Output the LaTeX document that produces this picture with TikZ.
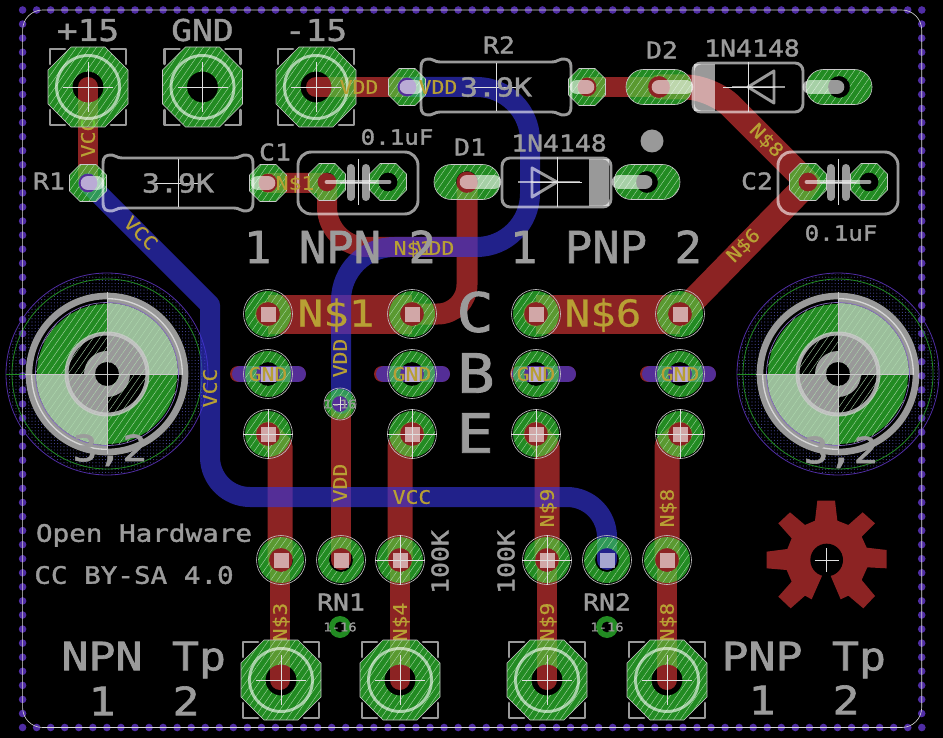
\documentclass[tikz,border=0pt]{standalone}
\usepackage{fontspec}
\usepackage{graphicx}
\usetikzlibrary{patterns.meta}
\newfontfamily\fontsilktxt[FakeStretch=1.15,FakeBold=1.6]{DejaVu Sans Mono}
\newfontfamily\fontcutxt[FakeStretch=1.15,FakeBold=.4]{DejaVu Sans Mono}
\definecolor{cured}{RGB}{140,35,35}
\definecolor{cublue}{RGB}{53,53,217}
\definecolor{padg}{RGB}{57,232,57}
\definecolor{solidg}{RGB}{34,139,34}
\definecolor{hatchc}{RGB}{175,218,175}
\definecolor{dotp}{RGB}{80,45,165}
\definecolor{labely}{RGB}{184,160,52}
\definecolor{thinw}{RGB}{200,200,200}
\definecolor{stip}{RGB}{70,70,150}
\definecolor{silkg}{RGB}{155,155,155}
\tikzset{
  redtr/.style={draw=cured,line width=#1*0.75pt,line cap=round,line join=round},
  bluetr/.style={draw=cublue,draw opacity=.64,line width=#1*0.75pt,line cap=round,line join=round},
  padc/.style={fill=padg,fill opacity=.6},
  hatch/.style={pattern={Lines[angle=55,distance=4.1pt,line width=0.28pt]},pattern color=hatchc},
  outl/.style={draw=thinw,line width=.45pt},
  crossl/.style={draw=white!88!black,line width=.5pt},
  silk/.style={draw=white,draw opacity=.6,line width=2.2pt,line cap=round,line join=round},
  silkf/.style={fill=white,fill opacity=.6},
  stub/.style={draw=white,draw opacity=.6,line width=11pt,line cap=round},
  silktxt/.style={text=silkg},
  cutxt/.style={text=labely},
}
\newcounter{tn}
\newcommand\txt[6]{\stepcounter{tn}\pgfmathsetlengthmacro\emsz{#4*0.75pt}\pgfmathsetlengthmacro\capht{0.73*#4*0.75pt}\node[#1,rotate=#5,inner sep=0pt,outer sep=0pt,text height=\capht,text depth=0pt,anchor=center,font=\csname font#1\endcsname\fontsize{\emsz}{\emsz}\selectfont] (t\thetn) at (#2,#3) {#6};}
\newcommand\octpath[2]{(-#1,-#2)--(-#2,-#1)--(#2,-#1)--(#1,-#2)--(#1,#2)--(#2,#1)--(-#2,#1)--(-#1,#2)--cycle}
\newcommand\crossat[2]{\draw[crossl] (-#1,0)--(#1,0) (0,-#2)--(0,#2);}
\newcommand\bigpad[2]{\begin{scope}[shift={(#1,#2)}]
  \fill[padc,even odd rule] \octpath{40}{17} (0,0) circle[radius=15.5];
  \fill[hatch,even odd rule] \octpath{40}{17} (0,0) circle[radius=15.5];
  \draw[outl] \octpath{40}{17};
  \draw[silk] (-23,-38)--(-38,-38)--(-38,-23) (23,-38)--(38,-38)--(38,-23) (-23,38)--(-38,38)--(-38,23) (23,38)--(38,38)--(38,23);
  \draw[silk] (0,0) circle[radius=31.5];
  \crossat{25}{25}
\end{scope}}
\newcommand\smpad[2]{\begin{scope}[shift={(#1,#2)}]
  \fill[padc,even odd rule] \octpath{18.5}{8} (0,0) circle[radius=9.5];
  \fill[hatch,even odd rule] \octpath{18.5}{8} (0,0) circle[radius=9.5];
  \draw[outl] \octpath{18.5}{8};
\end{scope}}
\newcommand\obpad[2]{\begin{scope}[shift={(#1,#2)}]
  \fill[padc,even odd rule,rounded corners=13pt] (-33,-17.5) rectangle (33,17.5) (0,0) circle[radius=11];
  \fill[hatch,even odd rule,rounded corners=13pt] (-33,-17.5) rectangle (33,17.5) (0,0) circle[radius=11];
  \draw[outl,rounded corners=13pt] (-33,-17.5) rectangle (33,17.5);
\end{scope}}
\newcommand\rdpad[2]{\begin{scope}[shift={(#1,#2)}]
  \fill[padc,even odd rule] (0,0) circle[radius=23] circle[radius=12];
  \fill[hatch,even odd rule] (0,0) circle[radius=23] circle[radius=12];
  \draw[outl] (0,0) circle[radius=24.5];
  \fill[silkf] (-7.5,-7.5) rectangle (7.5,7.5);
\end{scope}}
\newcommand\rdpadx[2]{\rdpad{#1}{#2}\begin{scope}[shift={(#1,#2)}]\crossat{25}{25}\end{scope}}
\newcommand\resbody[2]{\begin{scope}[shift={(#1,#2)}]
  \draw[silk] (-75,-19) .. controls (-75,-27) and (-72,-28) .. (-66,-28) .. controls (-62,-28) and (-62,-25) .. (-56,-25) -- (56,-25) .. controls (62,-25) and (62,-28) .. (66,-28) .. controls (72,-28) and (75,-27) .. (75,-19) -- (75,19) .. controls (75,27) and (72,28) .. (66,28) .. controls (62,28) and (62,25) .. (56,25) -- (-56,25) .. controls (-62,25) and (-62,28) .. (-66,28) .. controls (-72,28) and (-75,27) .. (-75,19) -- cycle;
  \crossat{24}{24}
\end{scope}}
\newcommand\capbody[2]{\begin{scope}[shift={(#1,#2)}]
  \draw[silk,rounded corners=10pt] (-60,-30) rectangle (60,32);
  \draw[draw=white,draw opacity=.6,line width=3.6pt,line cap=round] (-31,0)--(31,0);
  \draw[draw=white,draw opacity=.6,line width=6pt,line cap=round] (-7.5,-14)--(-7.5,15) (7.5,-14)--(7.5,15);
  \crossat{18}{23}
\end{scope}}
\newcommand\bighole[2]{\begin{scope}[shift={(#1,#2)}]
  \fill[pattern={Dots[distance=2.4pt,radius=.42pt]},pattern color=stip,even odd rule] (0,0) circle[radius=100] circle[radius=82];
  \draw[dotp,line width=.6pt] (0,0) circle[radius=101];
  \draw[solidg,line width=.6pt] (0,0) circle[radius=95];
  \begin{scope}\clip (-110,-110) rectangle (0,0);
    \fill[solidg,even odd rule] (0,0) circle[radius=70] circle[radius=41];
    \fill[fill=white!62!black] (0,0) circle[radius=23];
  \end{scope}
  \begin{scope}\clip (0,0) rectangle (110,110);
    \fill[solidg,even odd rule] (0,0) circle[radius=70] circle[radius=41];
    \fill[fill=white!62!black] (0,0) circle[radius=23];
  \end{scope}
  \begin{scope}\clip (0,-110) rectangle (110,0);
    \fill[fill={rgb,255:red,155;green,190;blue,155},even odd rule] (0,0) circle[radius=71] circle[radius=41];
    \fill[fill=white!60!black,even odd rule] (0,0) circle[radius=76] circle[radius=71];
    \fill[fill=white!60!black] (0,0) circle[radius=41];
  \end{scope}
  \begin{scope}\clip (-110,0) rectangle (0,110);
    \fill[fill={rgb,255:red,155;green,190;blue,155},even odd rule] (0,0) circle[radius=71] circle[radius=41];
    \fill[fill=white!60!black,even odd rule] (0,0) circle[radius=76] circle[radius=71];
    \fill[fill=white!60!black] (0,0) circle[radius=41];
  \end{scope}
  \fill[black] (0,0) circle[radius=12];
  \fill[hatch,even odd rule] (0,0) circle[radius=71] circle[radius=12];
  \draw[draw=white,draw opacity=.6,line width=5pt] (0,0) circle[radius=78];
  \draw[dotp!70!white,line width=.5pt] (0,0) circle[radius=71.5];
  \draw[draw=white!80!black,draw opacity=.8,line width=3pt] (0,0) circle[radius=40.5];
  \draw[solidg,line width=.6pt] (-101,0)--(-82,0);
  \draw[crossl,draw=thinw] (-82,0)--(71,0) (0,-82)--(0,80);
\end{scope}}
\begin{document}
\begin{tikzpicture}[x=0.75pt,y=-0.75pt]
\useasboundingbox (0,0) rectangle (943,738);
\fill[black] (0,0) rectangle (943,738);

\foreach \i in {0,...,64}{
  \fill[dotp] ({22.6+\i*14.05},10) circle[radius=3.8];
  \fill[dotp] ({22.6+\i*14.05},727.5) circle[radius=3.8];
}
\foreach \i in {1,...,50}{
  \fill[dotp] (22.6,{10+\i*14.07}) circle[radius=3.8];
  \fill[dotp] (921.7,{10+\i*14.07}) circle[radius=3.8];
}

\bighole{107}{374}
\bighole{838}{374}

\begin{scope}[shift={(500,480)},x=.25pt,y=-.25pt]
\fill[cured] (993,290)--(1022,358)--(1045,347)--(1090,385)--(1125,348)--(1085,300)--(1102,262)--(1160,265)--(1160,210)--(1100,203)--(1085,170)--(1125,130)--(1088,97)--(1045,135)--(1012,122)--(1005,62)--(952,62)--(945,122)--(915,135)--(870,97)--(835,130)--(875,175)--(862,207)--(800,215)--(800,265)--(860,270)--(875,305)--(835,350)--(872,385)--(915,347)--(935,358)--(965,290)--(980,240)--cycle;
\fill[black] (980,240) circle[radius=49];
\draw[crossl] (944,240)--(1016,240) (980,204)--(980,276);
\end{scope}

% red traces
\draw[redtr=20] (88,87)--(88,183);
\draw[redtr=20] (268,183)--(327,183) [rounded corners=30pt] --(327,247)--(467,247);
\draw[redtr=21,rounded corners=22pt] (467,182)--(467,314)--(412,314);
\draw[redtr=20] (316,87)--(407,87);
\draw[redtr=20] (587,87)--(659,87);
\draw[redtr=25,rounded corners=20pt] (659,87)--(712,87)--(808,183);
\draw[redtr=25] (808,183)--(680,314);
\draw[redtr=39,line cap=butt] (268,314)--(412,314);
\draw[redtr=39,line cap=butt] (536,314)--(680,314);
\foreach \x in {268,412,536,680}{\fill[cured] (\x,314) circle[radius=13];}
\draw[redtr=25] (268,434)--(280,446)--(280,560);
\draw[redtr=20] (280,560)--(280,680);
\draw[redtr=25] (412,434)--(400,446)--(400,560);
\draw[redtr=20] (400,560)--(400,680);
\draw[redtr=25] (536,434)--(547,446)--(547,560);
\draw[redtr=20] (547,560)--(547,680);
\draw[redtr=25] (680,434)--(667,446)--(667,560);
\draw[redtr=20] (667,560)--(667,680);
\draw[redtr=20] (341,404)--(341,560);
\foreach \x/\l/\r in {268/238/298,412/382/442,536/518/568,680/648/708}{
  \draw[redtr=16] (\l,374)--(\r,374);
  \draw[bluetr=16] ({\l+2},374)--(\r,374);
}

% blue traces
\draw[bluetr=20] (88,183)--(210,305) [rounded corners=30pt] -- (210,497) -- (607,497) -- (607,560);
\draw[bluetr=20,rounded corners=40pt] (407,87)--(530,87)--(530,247)--(341,247)--(341,404);

% copper labels beneath the pads
\txt{cutxt}{88}{138}{18.6}{90}{VCC}
\txt{cutxt}{767}{140}{18.6}{-45}{N\$8}
\txt{cutxt}{743}{245}{18.6}{45}{N\$6}
\txt{cutxt}{141}{233}{18.6}{-45}{VCC}
\txt{cutxt}{435}{248}{18.6}{0}{VDD}
\txt{cutxt}{413}{248}{18.6}{0}{N\$1}
\txt{cutxt}{336}{313}{37}{0}{N\$1}
\txt{cutxt}{603}{313}{37}{0}{N\$6}
\txt{cutxt}{340}{358}{18.6}{90}{VDD}
\txt{cutxt}{210}{388}{18.6}{90}{VCC}
\txt{cutxt}{340}{483}{18.6}{90}{VDD}
\txt{cutxt}{412}{497}{18.6}{0}{VCC}
\txt{cutxt}{547}{508}{18.6}{90}{N\$9}
\txt{cutxt}{667}{508}{18.6}{90}{N\$8}
\txt{cutxt}{280}{622}{18.6}{90}{N\$3}
\txt{cutxt}{400}{622}{18.6}{90}{N\$4}
\txt{cutxt}{547}{622}{18.6}{90}{N\$9}
\txt{cutxt}{667}{622}{18.6}{90}{N\$8}

% pads
\bigpad{88}{87}
\bigpad{202.5}{87}
\bigpad{316}{87}
\bigpad{281}{680}
\bigpad{400}{680}
\bigpad{547}{680}
\bigpad{667}{680}

\smpad{88}{183}
\smpad{268}{183}
\smpad{407}{87}
\smpad{587}{87}
\smpad{327}{182}
\smpad{388}{182}
\smpad{808}{182}
\smpad{869}{182}

\obpad{467}{182}
\obpad{647}{182}
\obpad{659}{87}
\obpad{839}{87}

\foreach \x in {268,412,536,680}{
  \rdpad{\x}{314}
  \rdpad{\x}{374}
  \rdpadx{\x}{434}
}
\rdpad{281}{560}
\rdpad{341}{560}
\rdpadx{400}{560}
\rdpadx{547}{560}
\rdpad{607}{560}
\rdpad{667}{560}

\fill[padc,even odd rule] (340,404) circle[radius=15] circle[radius=8];
\fill[hatch,even odd rule] (340,404) circle[radius=15] circle[radius=8];
\draw[outl] (340,404) circle[radius=16];
\fill[solidg,even odd rule] (340,627) circle[radius=11] circle[radius=5.5];
\fill[solidg,even odd rule] (607,627) circle[radius=11] circle[radius=5.5];
\draw[crossl,line width=.4pt] (333,404)--(347,404) (340,397)--(340,411);

\draw[draw=white!85!black,line width=.45pt,rounded corners=15pt] (22.6,10) rectangle (921.7,727.5);

% silk parts
\resbody{178}{183}
\resbody{496}{87}
\draw[stub] (88,183)--(97,183) (268,183)--(258,183) (407,87)--(416,87) (587,87)--(577,87);
\capbody{358}{182}
\capbody{838}{182}
\draw[silk,rounded corners=6pt] (502,158) rectangle (611,207);
\fill[silkf] (589,159) rectangle (609,206);
\draw[silk] (532,168)--(532,197)--(557,182)--cycle;
\draw[silk,line cap=butt] (518,182)--(580,182);
\begin{scope}[shift={(557,182)}]\crossat{25}{25}\end{scope}
\draw[stub] (467,182)--(494,182) (619,182)--(645,182);
\draw[silk,rounded corners=6pt] (693,63) rectangle (803,112);
\fill[silkf] (694,64) rectangle (715,111);
\draw[silk] (774,71)--(774,103)--(748,87)--cycle;
\draw[silk,line cap=butt] (732,87)--(785,87);
\begin{scope}[shift={(748,87)}]\crossat{25}{25}\end{scope}
\draw[stub] (659,87)--(686,87) (810,87)--(837,87);
\fill[silkf] (652,141) circle[radius=11.5];

% copper labels on top
\txt{cutxt}{295}{183}{18.6}{0}{N\$1}
\txt{cutxt}{359}{87}{18.6}{0}{VDD}
\txt{cutxt}{438}{87}{18.6}{0}{VDD}
\foreach \x in {268,412,536,680}{
  \txt{cutxt}{\x}{374}{18.6}{0}{GND}
}

% silk texts
\txt{silktxt}{88}{30}{30}{0}{+15}
\txt{silktxt}{202.5}{30}{30}{0}{GND}
\txt{silktxt}{316}{30}{30}{0}{-15}
\txt{silktxt}{499}{45}{23}{0}{R2}
\txt{silktxt}{662}{50}{23}{0}{D2}
\txt{silktxt}{752}{48}{23}{0}{1N4148}
\txt{silktxt}{275}{152}{23}{0}{C1}
\txt{silktxt}{49}{181}{23}{0}{R1}
\txt{silktxt}{397}{137}{21}{0}{0.1uF}
\txt{silktxt}{470}{147}{23}{0}{D1}
\txt{silktxt}{559}{143}{23}{0}{1N4148}
\txt{silktxt}{178}{183}{26}{0}{3.9K}
\txt{silktxt}{496}{87}{26}{0}{3.9K}
\txt{silktxt}{757}{181}{23}{0}{C2}
\txt{silktxt}{841}{233}{21}{0}{0.1uF}
\txt{silktxt}{340}{247}{44}{0}{\scalebox{.9}[1]{1 NPN 2}}
\txt{silktxt}{606}{247}{44}{0}{\scalebox{.9}[1]{1 PNP 2}}
\txt{silktxt}{475}{312}{54}{0}{C}
\txt{silktxt}{476}{373}{54}{0}{B}
\txt{silktxt}{475}{433}{54}{0}{E}
\txt{silktxt}{110}{448}{36}{0}{3,2}
\txt{silktxt}{841}{450}{36}{0}{3,2}
\txt{silktxt}{144}{533}{24}{0}{Open Hardware}
\txt{silktxt}{134}{575}{24}{0}{CC BY-SA 4.0}
\txt{silktxt}{102}{656}{39}{0}{NPN}
\txt{silktxt}{199}{656}{39}{0}{Tp}
\txt{silktxt}{102}{701}{39}{0}{1}
\txt{silktxt}{186}{701}{39}{0}{2}
\txt{silktxt}{762}{656}{39}{0}{PNP}
\txt{silktxt}{859}{656}{39}{0}{Tp}
\txt{silktxt}{762}{700}{39}{0}{1}
\txt{silktxt}{846}{700}{39}{0}{2}
\txt{silktxt}{440}{562}{23}{90}{100K}
\txt{silktxt}{506}{562}{23}{90}{100K}
\txt{silktxt}{341}{602}{23}{0}{RN1}
\txt{silktxt}{607}{602}{23}{0}{RN2}
\txt{silktxt}{340}{404}{12}{0}{1-16}
\txt{silktxt}{340}{627}{12}{0}{1-16}
\txt{silktxt}{607}{627}{12}{0}{1-16}
\end{tikzpicture}
\end{document}
